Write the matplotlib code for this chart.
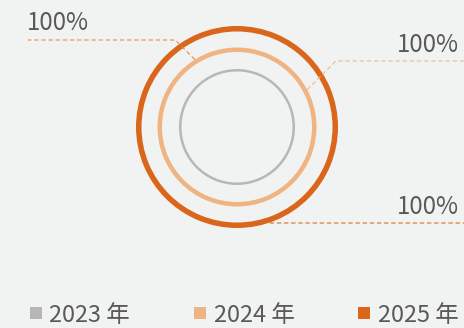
import matplotlib.pyplot as plt
from matplotlib.lines import Line2D
import numpy as np

plt.rcParams['font.family'] = ['Noto Sans CJK SC', 'DejaVu Sans']

BG = '#f1f3f2'
TEXT = '#595959'

years = ['2023 年', '2024 年', '2025 年']
shares = [100, 100, 100]
ring_colors = ['#b7b7b7', '#f0b483', '#d9661a']
ring_radius = [58, 79.5, 101]
ring_width = [2.5, 4.5, 5.5]

# label placement: which ring the leader starts on, angle (deg), side, line colour
label_ring = [1, 1, 2]
label_angle = [122, 28, -71]
label_side = ['left', 'right', 'right']
label_color = ['#e98b45', '#f0b78a', '#dd6c22']
label_y = [40, 61, 223]

CX, CY = 237, 127

fig = plt.figure(figsize=(464 / 72, 328 / 72), dpi=72, facecolor=BG)
ax = fig.add_axes([0, 0, 1, 1])
ax.set_facecolor(BG)

for share, r, w, c in zip(shares, ring_radius, ring_width, ring_colors):
    ax.pie([share], radius=r, center=(CX, CY), colors=[c], startangle=90,
           wedgeprops=dict(width=w, linewidth=0))

for i, share in enumerate(shares):
    r = ring_radius[label_ring[i]]
    a = np.deg2rad(label_angle[i])
    x0, y0 = CX + r * np.cos(a), CY - r * np.sin(a)
    y1 = label_y[i]
    if label_side[i] == 'left':
        x1 = x0 - abs(y1 - y0)
        x2 = 28
        tx, ha = 27, 'left'
    else:
        x1 = x0 + abs(y1 - y0) if y1 != y0 else x0
        x2 = 464
        tx, ha = 459, 'right'
    ax.plot([x0, x1, x2], [y0, y1, y1], color=label_color[i], lw=1.1,
            ls=(0, (4, 2.5)), zorder=3)
    ax.text(tx, y1 - 9.5, f'{share}%', ha=ha, va='baseline', fontsize=24,
            color=TEXT)

handles = [Line2D([], [], ls='none', marker='s', markersize=12,
                  markerfacecolor=c, markeredgewidth=0) for c in ring_colors]
ax.legend(handles, years, loc='center', bbox_to_anchor=(244, 315),
          bbox_transform=ax.transData, ncol=3, frameon=False, fontsize=23.5,
          labelcolor=TEXT, handlelength=0.55, handletextpad=0.3,
          columnspacing=2.7, borderpad=0, borderaxespad=0)

ax.set_xlim(0, 464)
ax.set_ylim(328, 0)
ax.set_aspect('equal')
ax.axis('off')

fig.savefig('out.png', dpi=72, facecolor=BG)
